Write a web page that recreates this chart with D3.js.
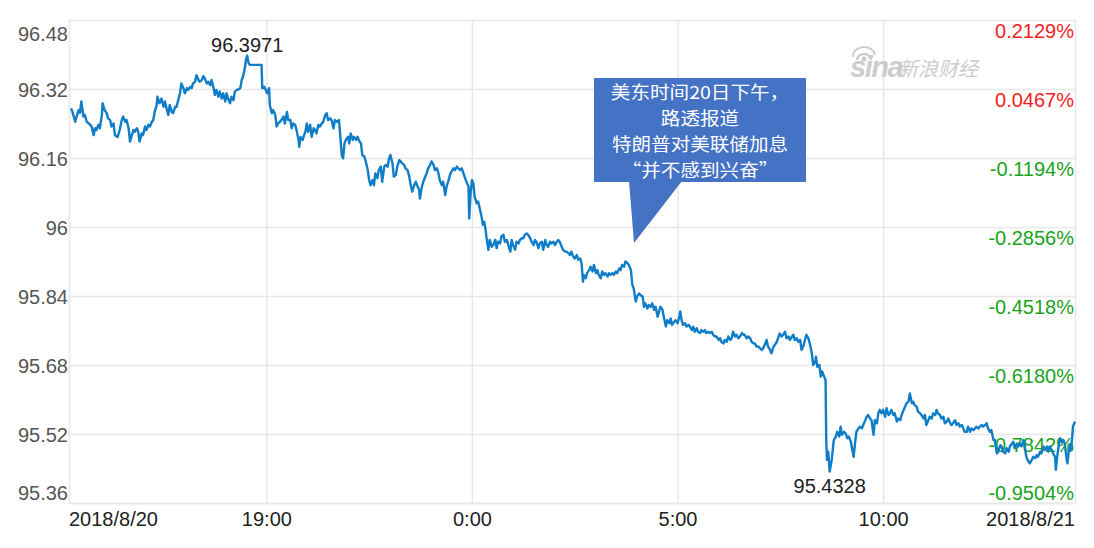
<!DOCTYPE html>
<html>
<head>
<meta charset="utf-8">
<script src="https://cdn.jsdelivr.net/npm/d3@7"></script>
<style>
  html, body { margin: 0; padding: 0; background: #ffffff; }
  svg { display: block; }
</style>
</head>
<body>
<svg id="chart" width="1094" height="548"></svg>
<script>
// ---------------- DATA ----------------
const startTime = "2018-08-20 14:12";
const endTime = "2018-08-21 14:40";

const minutesFromStart = [
  3,5,9,11,14,16,18,21,23,26,31,33,36,38,40,43,45,48,49,52,55,57,60,62,65,67,71,74,77,79,82,84,87,89,91,94,96,99,101,103,
  106,108,111,113,116,118,121,123,125,128,129,132,135,138,140,143,145,147,150,152,155,157,160,162,164,167,169,172,174,177,
  179,181,184,186,189,191,194,196,198,201,203,206,208,211,213,215,218,220,223,225,228,230,232,235,237,240,242,245,247,250,
  252,254,257,258,260,262,264,281,282,285,287,289,292,293,296,298,301,303,305,308,310,313,315,318,320,323,325,327,330,332,
  335,336,338,341,343,345,347,349,352,354,357,359,361,364,366,369,371,374,376,378,381,383,386,388,391,394,396,398,400,402,
  404,407,409,411,414,416,419,421,424,426,428,431,433,436,438,440,443,445,447,450,452,455,457,460,462,465,467,469,472,474,
  477,479,482,484,486,489,491,494,496,499,501,503,506,508,511,512,
  515,517,520,522,524,527,529,532,534,537,539,541,544,546,549,551,554,556,558,561,563,566,568,571,573,575,578,580,583,584,
  586,588,590,592,595,597,600,602,604,606,608,609,612,614,617,619,622,624,626,629,631,634,636,639,641,644,646,648,651,653,
  656,658,661,663,665,668,670,673,675,678,680,682,685,687,690,692,695,697,699,702,704,707,709,712,714,716,719,721,724,726,
  729,731,733,736,738,741,743,746,748,750,751,754,756,759,761,764,766,769,771,773,776,778,781,783,786,788,790,793,795,798,
  800,803,805,807,810,812,815,817,820,822,824,827,829,832,834,837,839,841,844,846,849,851,854,856,859,861,863,866,868,871,
  873,876,878,880,883,885,888,890,892,894,896,899,901,904,906,909,911,913,916,918,921,923,926,928,930,933,935,938,940,943,
  945,948,950,952,955,957,960,962,965,967,969,972,974,977,979,982,984,986,989,991,994,996,999,1001,1003,1006,1008,1011,1013,1016,
  1018,1020,1023,1025,1028,1033,
  1037,1040,1042,1045,1047,1050,1052,1055,1057,1059,1062,1064,1067,1069,1072,1074,1076,1079,1081,1084,1086,1089,1090,1092,1095,
  1097,1099,1102,1104,1105,1106,1107,1108,1110,1113,1114,1116,1119,1121,1124,1126,1128,1131,1133,1136,1138,1141,1143,1145,1147,
  1149,1152,1154,1157,1159,1162,1164,1166,1169,1171,1174,1176,1179,1181,1183,1186,1188,1191,1193,1196,1198,1200,1203,1205,1208,
  1210,1213,1215,1217,1220,1222,1225,1227,1230,1232,1234,1237,1239,1242,1244,1247,1249,1251,1254,1256,1259,1261,1264,1266,1268,
  1271,1273,1276,1278,1281,1283,1286,1288,1290,1293,1295,1298,1300,1303,1305,1307,1310,1312,1315,1317,1320,1322,1324,1327,1329,
  1332,1334,1337,1339,1341,1344,1346,1349,1351,1354,1356,1359,1361,1363,1366,1368,1371,1373,1376,1378,1380,1383,1385,1388,1390,
  1393,1395,1397,1400,1402,1405,1407,1410,1412,1414,1417,1419,1422,1424,1427,1429,1431,1434,1436,1439,1440,1442,1444,1446,1448,
  1451,1453,1456,1457,1459,1461,1462,1464,1465,1468
];

const prices = [
  96.275,96.267,96.244,96.256,96.271,96.265,96.291,96.256,96.260,96.244,96.237,96.233,96.213,96.229,96.225,96.237,96.229,96.260,96.287,96.271,
  96.264,96.252,96.248,96.233,96.240,96.213,96.209,96.225,96.248,96.256,96.244,96.248,96.229,96.198,96.209,96.225,96.221,96.229,96.221,96.198,
  96.217,96.213,96.233,96.225,96.237,96.233,96.244,96.248,96.267,96.283,96.302,96.287,96.298,96.279,96.291,96.271,96.260,96.283,96.267,96.264,
  96.279,96.279,96.298,96.310,96.333,96.322,96.310,96.322,96.318,96.325,96.322,96.333,96.337,96.352,96.341,96.337,96.341,96.350,96.345,96.333,
  96.337,96.329,96.341,96.322,96.306,96.318,96.302,96.314,96.298,96.310,96.291,96.310,96.298,96.287,96.302,96.294,96.314,96.318,96.319,96.322,
  96.341,96.349,96.372,96.387,96.3971,96.380,96.376,96.376,96.322,96.325,96.318,96.310,96.322,96.283,96.264,96.271,96.260,96.233,96.240,96.244,
  96.248,96.256,96.240,96.267,96.248,96.248,96.229,96.240,96.237,96.225,96.202,96.186,96.209,96.202,96.213,96.221,96.240,96.221,96.237,96.209,
  96.229,96.225,96.217,96.237,96.233,96.240,96.244,96.260,96.264,96.248,96.252,96.248,96.229,96.248,96.244,96.248,96.209,96.167,96.159,96.194,
  96.202,96.209,96.194,96.217,96.202,96.209,96.202,96.209,96.198,96.194,96.167,96.163,96.152,96.132,96.109,96.097,96.109,96.097,96.124,96.113,
  96.132,96.140,96.105,96.140,96.144,96.140,96.159,96.167,96.148,96.117,96.121,96.140,96.155,96.152,96.148,96.144,96.136,96.132,96.121,96.094,
  96.082,96.094,96.105,96.097,96.086,96.066,
  96.094,96.105,96.117,96.125,96.136,96.144,96.152,96.144,96.132,96.136,96.125,96.109,96.097,96.105,96.074,96.094,96.109,96.121,96.128,96.136,
  96.132,96.140,96.136,96.132,96.136,96.128,96.113,96.105,96.094,96.020,96.078,96.109,96.101,96.070,96.055,96.059,96.039,96.024,96.005,96.012,
  95.993,95.978,95.947,95.970,95.954,95.958,95.970,95.951,95.966,95.962,95.978,95.982,95.966,95.970,95.958,95.943,95.970,95.958,95.947,95.966,
  95.962,95.970,95.974,95.974,95.982,95.985,95.982,95.974,95.966,95.958,95.970,95.966,95.951,95.962,95.966,95.947,95.970,95.958,95.954,95.966,
  95.962,95.966,95.958,95.966,95.970,95.966,95.954,95.947,95.943,95.943,95.939,95.935,95.943,95.931,95.927,95.935,95.924,95.927,95.916,95.873,
  95.889,95.881,95.893,95.900,95.908,95.897,95.912,95.893,95.900,95.889,95.881,95.897,95.889,95.893,95.885,95.893,95.889,95.893,95.889,95.897,
  95.893,95.904,95.900,95.912,95.908,95.920,95.916,95.912,95.900,95.866,95.858,95.827,95.839,95.846,95.842,95.839,95.815,95.823,95.811,95.819,
  95.815,95.823,95.808,95.815,95.792,95.804,95.815,95.808,95.792,95.769,95.784,95.777,95.788,95.773,95.780,95.784,95.777,95.788,95.804,95.784,
  95.773,95.777,95.769,95.773,95.769,95.761,95.769,95.757,95.765,95.757,95.754,95.761,95.757,95.761,95.754,95.757,95.754,95.757,95.750,95.746,
  95.746,95.738,95.742,95.734,95.730,95.738,95.734,95.746,95.738,95.742,95.757,95.746,95.750,95.742,95.746,95.754,95.750,95.750,95.742,95.746,
  95.742,95.734,95.730,95.730,95.723,95.723,95.719,95.715,95.719,95.730,95.738,95.723,95.715,95.707,95.722,95.734,
  95.753,95.746,95.750,95.757,95.742,95.746,95.738,95.746,95.750,95.738,95.742,95.734,95.738,95.715,95.726,95.738,95.750,95.742,95.730,95.707,
  95.680,95.688,95.699,95.676,95.680,95.653,95.665,95.653,95.645,95.506,95.460,95.467,95.479,95.4328,95.460,95.475,95.506,95.514,95.525,95.514,
  95.537,95.518,95.525,95.522,95.510,95.514,95.502,95.483,95.467,95.498,95.525,95.533,95.537,95.533,95.541,95.552,95.560,95.564,95.556,95.552,
  95.518,95.552,95.545,95.568,95.576,95.568,95.576,95.560,95.580,95.564,95.568,95.576,95.564,95.568,95.549,95.556,95.552,95.564,95.572,95.583,
  95.591,95.595,95.614,95.591,95.595,95.587,95.583,95.572,95.568,95.564,95.556,95.564,95.541,95.552,95.560,95.556,95.568,95.564,95.576,95.568,
  95.564,95.556,95.560,95.545,95.549,95.556,95.545,95.541,95.545,95.552,95.541,95.545,95.537,95.541,95.533,95.525,95.525,95.537,95.525,95.533,
  95.529,95.533,95.537,95.533,95.537,95.541,95.537,95.541,95.545,95.533,95.525,95.529,95.506,95.506,95.475,95.479,95.494,95.491,95.479,95.475,
  95.487,95.479,95.491,95.498,95.502,95.487,95.498,95.491,95.498,95.491,95.506,95.487,95.467,95.456,95.452,95.460,95.467,95.464,95.471,95.467,
  95.479,95.475,95.491,95.483,95.491,95.479,95.491,95.483,95.475,95.467,95.437,95.467,95.491,95.510,95.502,95.506,95.498,95.460,95.452,95.483,
  95.494,95.483,95.514,95.537,95.549
];

const yTicks = [96.48, 96.32, 96.16, 96, 95.84, 95.68, 95.52, 95.36];
const yTickLabels = ["96.48", "96.32", "96.16", "96", "95.84", "95.68", "95.52", "95.36"];
const pctLabels = ["0.2129%", "0.0467%", "-0.1194%", "-0.2856%", "-0.4518%", "-0.6180%", "-0.7842%", "-0.9504%"];
const xTickTimes = ["2018-08-20 19:00", "2018-08-21 00:00", "2018-08-21 05:00", "2018-08-21 10:00"];
const xEndLabels = ["2018/8/20", "2018/8/21"];
const calloutLines = ["美东时间20日下午，", "路透报道", "特朗普对美联储加息", "“并不感到兴奋”"];

// ---------------- CHART ----------------
const parse = d3.timeParse("%Y-%m-%d %H:%M");
const t0 = parse(startTime), t1 = parse(endTime);
const data = minutesFromStart.map((m, i) => ({ t: d3.timeMinute.offset(t0, m), v: prices[i] }));

const L = 69, R = 1075, T = 20, B = 503;
const svg = d3.select("#chart");
const FONT = "'Liberation Sans', Arial, Helvetica, sans-serif";
const GRID = "#e8e8e8";

const x = d3.scaleTime().domain([t0, t1]).range([L, R]);
const y = d3.scaleLinear().domain([95.36, 96.48]).range([B, T]);

// Left axis + horizontal gridlines
const gy = svg.append("g").attr("transform", `translate(${L},0)`)
  .call(d3.axisLeft(y).tickValues(yTicks).tickSize(-(R - L)).tickPadding(1)
    .tickFormat((d, i) => yTickLabels[i]));
gy.select(".domain").remove();
gy.selectAll(".tick line").attr("stroke", GRID).attr("stroke-width", 1.5);
gy.selectAll(".tick text")
  .attr("fill", "#555555").style("font-family", FONT).style("font-size", "20px")
  .attr("dy", (d, i) => i === 0 ? "1.0em" : (i === yTicks.length - 1 ? "-0.17em" : "0.35em"));

// Bottom axis + vertical gridlines
const xTickDates = xTickTimes.map(parse);
const gx = svg.append("g").attr("transform", `translate(0,${B})`)
  .call(d3.axisBottom(x).tickValues(xTickDates).tickSize(-(B - T)).tickPadding(9)
    .tickFormat(d3.timeFormat("%-H:%M")));
gx.select(".domain").attr("stroke", GRID).attr("stroke-width", 1.5);
gx.selectAll(".tick line").attr("stroke", GRID).attr("stroke-width", 1.5);
gx.selectAll(".tick text").attr("fill", "#222222").style("font-family", FONT).style("font-size", "20px");

// End date labels
svg.append("g").selectAll("text").data(xEndLabels).join("text")
  .attr("x", (d, i) => i === 0 ? x(t0) : x(t1))
  .attr("y", B + 9).attr("dy", "0.71em")
  .attr("text-anchor", (d, i) => i === 0 ? "start" : "end")
  .attr("fill", "#222222").style("font-family", FONT).style("font-size", "20px")
  .text(d => d);

// Right percentage labels
svg.append("g").selectAll("text").data(yTicks).join("text")
  .attr("x", R - 1)
  .attr("y", d => y(d))
  .attr("dy", (d, i) => i === yTicks.length - 1 ? "-0.17em" : "0.88em")
  .attr("text-anchor", "end")
  .attr("fill", (d, i) => pctLabels[i].startsWith("-") ? "#1aa31a" : "#f31d1d")
  .style("font-family", FONT).style("font-size", "20px")
  .text((d, i) => pctLabels[i]);

// Watermark
const wm = svg.append("g").attr("fill", "#cdcdcd");
wm.append("text").attr("x", 850).attr("y", 77)
  .style("font-family", FONT).style("font-size", "29px").style("font-weight", "bold").style("font-style", "italic")
  .attr("letter-spacing", "-1.5").text("sina");
wm.append("path").attr("d", "M857,60 a7,6 0 1,1 14,0").attr("fill", "none").attr("stroke", "#cdcdcd").attr("stroke-width", 2.5);
wm.append("path").attr("d", "M853,57 a11,9 0 0,1 22,-2").attr("fill", "none").attr("stroke", "#cdcdcd").attr("stroke-width", 2);
wm.append("circle").attr("cx", 864).attr("cy", 59).attr("r", 2.5);
wm.append("text").attr("x", 898).attr("y", 76)
  .style("font-family", "'Noto Sans CJK SC', sans-serif").style("font-size", "20px").style("font-style", "italic")
  .text("新浪财经");

// Price line
svg.append("path").datum(data)
  .attr("fill", "none").attr("stroke", "#0f7dc8").attr("stroke-width", 2.4)
  .attr("stroke-linejoin", "round")
  .attr("d", d3.line().x(d => x(d.t)).y(d => y(d.v)));

// Max / min labels
const hi = d3.greatest(data, d => d.v);
const lo = d3.least(data, d => d.v);
svg.append("text").attr("x", x(hi.t)).attr("y", y(hi.v) - 4).attr("text-anchor", "middle")
  .attr("fill", "#222222").style("font-family", FONT).style("font-size", "20px").text(hi.v.toFixed(4));
svg.append("text").attr("x", x(lo.t)).attr("y", y(lo.v) + 21).attr("text-anchor", "middle")
  .attr("fill", "#222222").style("font-family", FONT).style("font-size", "20px").text(lo.v.toFixed(4));

// Callout
const co = svg.append("g");
co.append("rect").attr("x", 594).attr("y", 78).attr("width", 212).attr("height", 104).attr("fill", "#4472c4");
co.append("path").attr("d", "M629,181 L682,181 L634,243 Z").attr("fill", "#4472c4");
co.append("g").attr("transform", "translate(700,0) scale(1.1,1)")
  .selectAll("text").data(calloutLines).join("text")
  .attr("x", 0).attr("y", (d, i) => 99 + i * 26)
  .attr("text-anchor", "middle").attr("fill", "#ffffff")
  .style("font-family", "'Noto Sans CJK SC', sans-serif").style("font-size", "17.8px")
  .text(d => d);
</script>
</body>
</html>
